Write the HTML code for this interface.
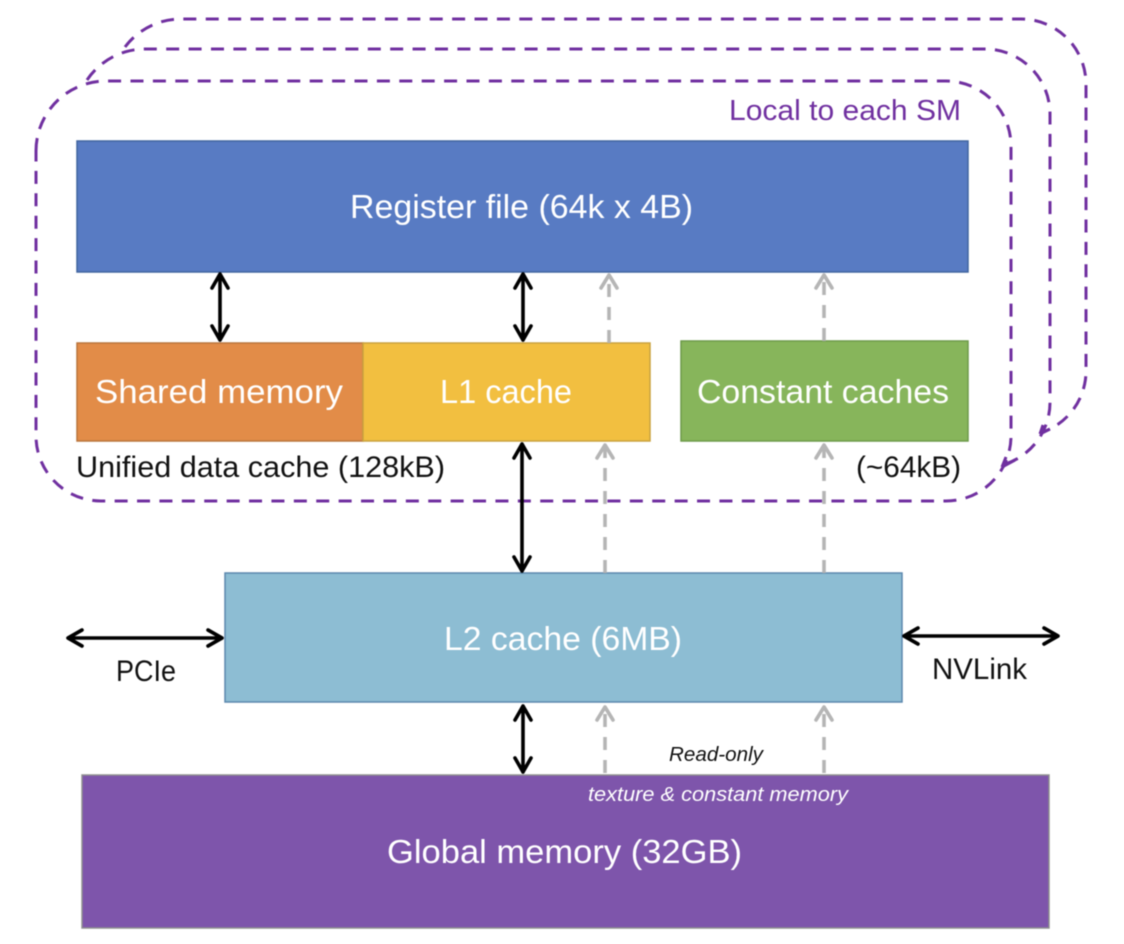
<!DOCTYPE html>
<html><head><meta charset="utf-8"><style>
html,body{margin:0;padding:0;background:#fff;width:1124px;height:944px;overflow:hidden}
svg{display:block;filter:blur(0.45px)}
text{font-family:"Liberation Sans",sans-serif}
.w{fill:#fff;font-size:33px}
.k{fill:#111;font-size:30px}
.p{fill:none;stroke:#7030a0;stroke-width:3;stroke-dasharray:13 9.4}
.a{fill:none;stroke:#000;stroke-width:3.6;stroke-linecap:round;stroke-linejoin:round}
.g{fill:none;stroke:#b5b5b5;stroke-width:3.6;stroke-linecap:round;stroke-linejoin:round}
.gd{fill:none;stroke:#b5b5b5;stroke-width:3.6;stroke-dasharray:13 10}
</style></head><body>
<svg width="1124" height="944" viewBox="0 0 1124 944" xmlns="http://www.w3.org/2000/svg">
<!-- dashed SM outlines -->
<path class="p" d="M125,47 A70,70 0 0 1 181,19 H1021 A65,65 0 0 1 1086,84 V370 A65,65 0 0 1 1040,433"/>
<path class="p" d="M87,80 A70,70 0 0 1 145,49 H985 A65,65 0 0 1 1050,114 V402 A65,65 0 0 1 1002,465"/>
<path class="p" d="M36,151 A70,70 0 0 1 106,81 H946 A65,65 0 0 1 1011,146 V436 A65,65 0 0 1 946,501 H101 A65,65 0 0 1 36,436 Z"/>
<path d="M1040,434 L1050,429 M1040,434 L1043,425 M1002,467 L1015,460 M1002,467 L1006,457" fill="none" stroke="#7030a0" stroke-width="3"/>
<!-- boxes -->
<rect x="77" y="141" width="891" height="131" fill="#587bc3" stroke="#41659f" stroke-width="1.5"/>
<rect x="77" y="343" width="286" height="98" fill="#e28c48" stroke="#b9743c" stroke-width="1.5"/>
<rect x="363" y="343" width="287" height="98" fill="#f2bf40" stroke="#c9a23e" stroke-width="1.5"/>
<rect x="681" y="341" width="287" height="100" fill="#87b55b" stroke="#6d9a4a" stroke-width="1.5"/>
<rect x="225" y="573" width="677" height="129" fill="#8dbdd3" stroke="#5b87ad" stroke-width="1.5"/>
<rect x="82" y="775" width="967" height="153" fill="#7e55ab" stroke="#8f8f8f" stroke-width="1.5"/>
<!-- black arrows -->
<g class="a">
<path d="M220,274 V340 M212,288 L220,274 L228,288 M212,326 L220,340 L228,326"/>
<path d="M523,274 V340 M515,288 L523,274 L531,288 M515,326 L523,340 L531,326"/>
<path d="M522,444 V571 M514,458 L522,444 L530,458 M514,557 L522,571 L530,557"/>
<path d="M523,706 V772 M515,720 L523,706 L531,720 M515,758 L523,772 L531,758"/>
<path d="M68,638 H222 M82,630 L68,638 L82,646 M208,630 L222,638 L208,646"/>
<path d="M904,636 H1058 M918,628 L904,636 L918,644 M1044,628 L1058,636 L1044,644"/>
</g>
<!-- gray arrows -->
<path class="gd" d="M609,343 V276"/><path class="g" d="M601,288 L609,275 L617,288"/>
<path class="gd" d="M824,341 V276"/><path class="g" d="M816,288 L824,275 L832,288"/>
<path class="gd" d="M605,573 V446"/><path class="g" d="M597,458 L605,445 L613,458"/>
<path class="gd" d="M824,573 V446"/><path class="g" d="M816,458 L824,445 L832,458"/>
<path class="gd" d="M605,773 V708"/><path class="g" d="M597,720 L605,707 L613,720"/>
<path class="gd" d="M824,773 V708"/><path class="g" d="M816,720 L824,707 L832,720"/>
<!-- labels -->
<text x="350" y="218" class="w" textLength="343" lengthAdjust="spacingAndGlyphs">Register file (64k x 4B)</text>
<text x="95" y="403" class="w" textLength="248" lengthAdjust="spacingAndGlyphs">Shared memory</text>
<text x="440" y="403" class="w" textLength="132" lengthAdjust="spacingAndGlyphs">L1 cache</text>
<text x="697" y="403" class="w" textLength="252" lengthAdjust="spacingAndGlyphs">Constant caches</text>
<text x="444" y="650" class="w" textLength="238" lengthAdjust="spacingAndGlyphs">L2 cache (6MB)</text>
<text x="387" y="863" class="w" textLength="355" lengthAdjust="spacingAndGlyphs">Global memory (32GB)</text>
<text x="729" y="120" style="fill:#7030a0;font-size:29px" textLength="232" lengthAdjust="spacingAndGlyphs">Local to each SM</text>
<text x="76" y="477" class="k" textLength="369" lengthAdjust="spacingAndGlyphs">Unified data cache (128kB)</text>
<text x="856" y="477" class="k" textLength="105" lengthAdjust="spacingAndGlyphs">(~64kB)</text>
<text x="116" y="681" class="k" textLength="60" lengthAdjust="spacingAndGlyphs">PCIe</text>
<text x="932" y="679" class="k" textLength="95" lengthAdjust="spacingAndGlyphs">NVLink</text>
<text x="669" y="761" style="fill:#111;font-size:20px;font-style:italic" textLength="94" lengthAdjust="spacingAndGlyphs">Read-only</text>
<text x="588" y="801" style="fill:#fff;font-size:20px;font-style:italic" textLength="260" lengthAdjust="spacingAndGlyphs">texture &amp; constant memory</text>
</svg>
</body></html>
